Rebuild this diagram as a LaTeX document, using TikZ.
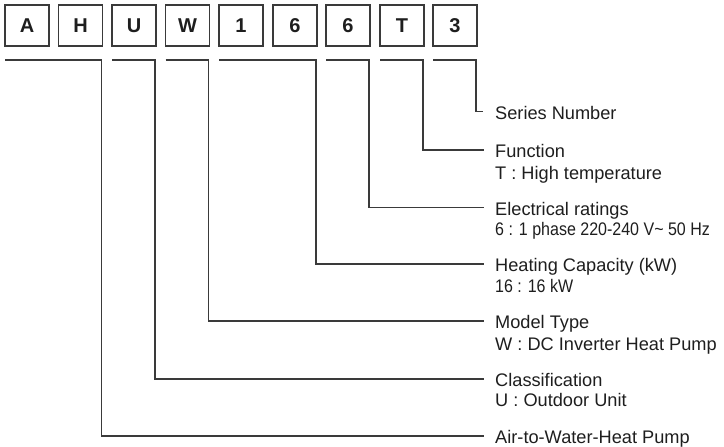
\documentclass[tikz,border=0pt]{standalone}
\usepackage{fontspec}
\setmainfont{Liberation Sans}
\newfontfamily\narrowfont[FakeStretch=0.88]{Liberation Sans}
\definecolor{lncol}{HTML}{3A3A3A}
\definecolor{txcol}{HTML}{1E1E1E}
\begin{document}
\begin{tikzpicture}[x=1pt,y=-1pt,
  letterbox/.style={draw=lncol,line width=1.3pt,minimum width=44pt,minimum height=41pt,inner sep=0pt,outer sep=0pt,
    font=\fontsize{20}{24}\selectfont\bfseries,text=txcol},
  conn/.style={draw=lncol,line width=1.1pt},
  titletext/.style={anchor=west,inner sep=0pt,text height=15pt,text depth=0pt,
    font=\fontsize{18.2}{22}\selectfont,text=txcol},
  desctext/.style={anchor=base west,inner sep=0pt,font=\fontsize{18.2}{22}\selectfont,text=txcol},
  narrowtext/.style={anchor=base west,inner sep=0pt,font=\fontsize{18.2}{22}\selectfont\narrowfont,text=txcol}]
\useasboundingbox (0,0) rectangle (724,447);
% boxes
\node[letterbox] (bA) at (27,25.5) {A};
\node[letterbox] (bH) at (80.5,25.5) {H};
\node[letterbox] (bU) at (134,25.5) {U};
\node[letterbox] (bW) at (187.5,25.5) {W};
\node[letterbox] (b1) at (241,25.5) {1};
\node[letterbox] (b6a) at (295,25.5) {6};
\node[letterbox] (b6b) at (348,25.5) {6};
\node[letterbox] (bT) at (402,25.5) {T};
\node[letterbox] (b3) at (455,25.5) {3};
\coordinate (lv) at (0,60);
% titles
\node[titletext] (tSer) at (495,111.5) {Series Number};
\node[titletext] (tFun) at (495,150) {Function};
\node[desctext] (dFun) at ([yshift=-22pt]tFun.base west) {T : High temperature};
\node[titletext] (tEle) at (495,207.5) {Electrical ratings};
\node[narrowtext] (dEle) at ([yshift=-20pt]tEle.base west) {6 : 1 phase 220-240 V\textasciitilde{} 50 Hz};
\node[titletext] (tHea) at (495,264) {Heating Capacity (kW)};
\node[narrowtext] (dHea) at ([yshift=-21pt]tHea.base west) {16 : 16 kW};
\node[titletext] (tMod) at (495,321) {Model Type};
\node[desctext] (dMod) at ([yshift=-22pt]tMod.base west) {W : DC Inverter Heat Pump};
\node[titletext] (tCla) at (495,379) {Classification};
\node[desctext] (dCla) at ([yshift=-20pt]tCla.base west) {U : Outdoor Unit};
\node[titletext] (tAir) at (495,436) {Air-to-Water-Heat Pump};
% connectors
\draw[conn] (bA.west |- lv) -- ([xshift=-1pt]bH.east |- lv) |- ([xshift=-11pt]tAir.west);
\draw[conn] (bU.west |- lv) -- ([xshift=-1pt]bU.east |- lv) |- ([xshift=-11pt]tCla.west);
\draw[conn] (bW.west |- lv) -- ([xshift=-1pt]bW.east |- lv) |- ([xshift=-11pt]tMod.west);
\draw[conn] (b1.west |- lv) -- ([xshift=-1pt]b6a.east |- lv) |- ([xshift=-11pt]tHea.west);
\draw[conn] (b6b.west |- lv) -- ([xshift=-1pt]b6b.east |- lv) |- ([xshift=-11pt]tEle.west);
\draw[conn] (bT.west |- lv) -- ([xshift=-1pt]bT.east |- lv) |- ([xshift=-11pt]tFun.west);
\draw[conn] (b3.west |- lv) -- ([xshift=-1pt]b3.east |- lv) |- ([xshift=-12pt]tSer.west);
\end{tikzpicture}
\end{document}
